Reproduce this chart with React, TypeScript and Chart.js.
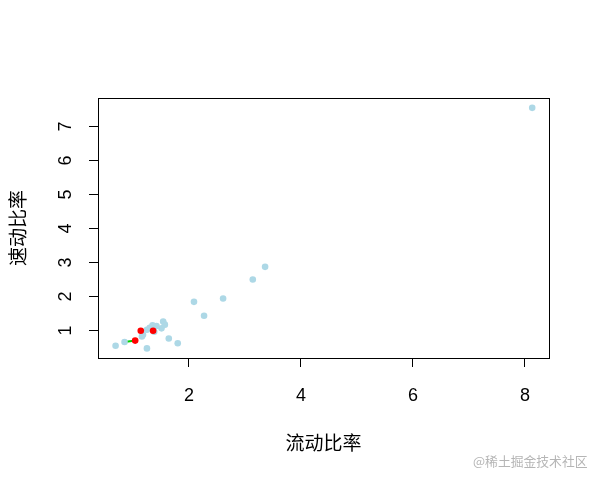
import React, { useEffect, useRef } from "react";
import { Chart, registerables } from "chart.js";

Chart.register(...registerables);

// 流动比率 (x) and 速动比率 (y) — light-blue observations
const blueX = [8.13, 3.36, 3.14, 2.61, 2.09, 2.27, 1.54, 1.57, 1.51, 1.42, 1.35, 1.38, 1.25, 1.30, 1.18, 1.16, 1.64, 1.80, 1.25, 0.69, 0.85];
const blueY = [7.55, 2.87, 2.50, 1.94, 1.84, 1.43, 1.26, 1.17, 1.06, 1.13, 1.15, 0.96, 1.02, 1.08, 0.87, 0.82, 0.76, 0.62, 0.47, 0.55, 0.66];
// highlighted (red) observations
const redX = [1.04, 1.14, 1.36];
const redY = [0.70, 0.99, 0.99];
// green segment
const lineX = [0.85, 1.04];
const lineY = [0.66, 0.70];

const xTicks = [2, 4, 6, 8];
const yTicks = [1, 2, 3, 4, 5, 6, 7];
const xRange = [0.376, 8.43];
const yRange = [0.188, 7.84];

const xTitle = "流动比率";
const yTitle = "速动比率";
const watermark = "@稀土掘金技术社区";

const toPts = (xs: number[], ys: number[]) => xs.map((x, i) => ({ x, y: ys[i] }));

export default function App() {
  const ref = useRef<HTMLCanvasElement | null>(null);
  useEffect(() => {
    if (!ref.current) return;
    const tickFont = { family: "'Liberation Sans', Arial, sans-serif", size: 18 };
    const titleFont = { family: "'Noto Sans CJK SC', sans-serif", size: 19 };
    const chart = new Chart(ref.current, {
      type: "scatter",
      data: {
        datasets: [
          {
            data: toPts(redX, redY),
            backgroundColor: "#FF0000",
            borderWidth: 0,
            pointRadius: 3.3,
            order: 0,
          },
          {
            data: toPts(blueX, blueY),
            backgroundColor: "#ADD8E6",
            borderWidth: 0,
            pointRadius: 3.3,
            order: 1,
          },
          {
            type: "line",
            data: toPts(lineX, lineY),
            borderColor: "#00D000",
            borderWidth: 2,
            pointRadius: 0,
            showLine: true,
            order: 2,
          } as any,
        ],
      },
      options: {
        responsive: false,
        animation: false,
        events: [],
        layout: { padding: { top: 98, right: 51, left: 0, bottom: 0 } },
        plugins: { legend: { display: false }, tooltip: { enabled: false } },
        scales: {
          x: {
            type: "linear",
            position: "bottom",
            min: xRange[0],
            max: xRange[1],
            afterBuildTicks: (axis: any) => {
              axis.ticks = xTicks.map((v) => ({ value: v }));
            },
            afterFit: (axis: any) => {
              axis.height = 123;
            },
            grid: { drawOnChartArea: false, drawTicks: true, tickLength: 9, color: "#000", lineWidth: 1 },
            border: { display: true, color: "#000", width: 1 },
            ticks: { font: tickFont, color: "#000", padding: 18, maxRotation: 0, autoSkip: false },
            title: { display: true, text: xTitle, font: titleFont, color: "#000", padding: { top: 0, bottom: 27 } },
          },
          y: {
            type: "linear",
            position: "left",
            min: yRange[0],
            max: yRange[1],
            afterBuildTicks: (axis: any) => {
              axis.ticks = yTicks.map((v) => ({ value: v }));
            },
            afterFit: (axis: any) => {
              axis.width = 98;
            },
            grid: { drawOnChartArea: false, drawTicks: true, tickLength: 9, color: "#000", lineWidth: 1 },
            border: { display: true, color: "#000", width: 1 },
            ticks: {
              font: tickFont,
              color: "#000",
              padding: 18,
              minRotation: 90,
              maxRotation: 90,
              crossAlign: "center",
              autoSkip: false,
            },
            title: { display: true, text: yTitle, font: titleFont, color: "#000", padding: { top: 6, bottom: 0 } },
          },
          xTop: {
            type: "linear",
            position: "top",
            min: xRange[0],
            max: xRange[1],
            afterFit: (axis: any) => {
              axis.height = 0;
            },
            grid: { display: false, drawTicks: false },
            border: { display: true, color: "#000", width: 1 },
            ticks: { display: false },
          },
          yRight: {
            type: "linear",
            position: "right",
            min: yRange[0],
            max: yRange[1],
            afterFit: (axis: any) => {
              axis.width = 0;
            },
            grid: { display: false, drawTicks: false },
            border: { display: true, color: "#000", width: 1 },
            ticks: { display: false },
          },
        },
      } as any,
    });
    return () => chart.destroy();
  }, []);

  return (
    <div style={{ position: "absolute", left: 0, top: 0, width: 600, height: 481, background: "#fff" }}>
      <canvas ref={ref} width={600} height={481} style={{ display: "block", width: 600, height: 481 }} />
      <div
        style={{
          position: "absolute",
          left: 473,
          top: 451,
          fontFamily: "'Noto Sans CJK SC', sans-serif",
          fontSize: 12.8,
          color: "#b5b5b5",
          whiteSpace: "nowrap",
          lineHeight: "20px",
        }}
      >
        {watermark}
      </div>
    </div>
  );
}
